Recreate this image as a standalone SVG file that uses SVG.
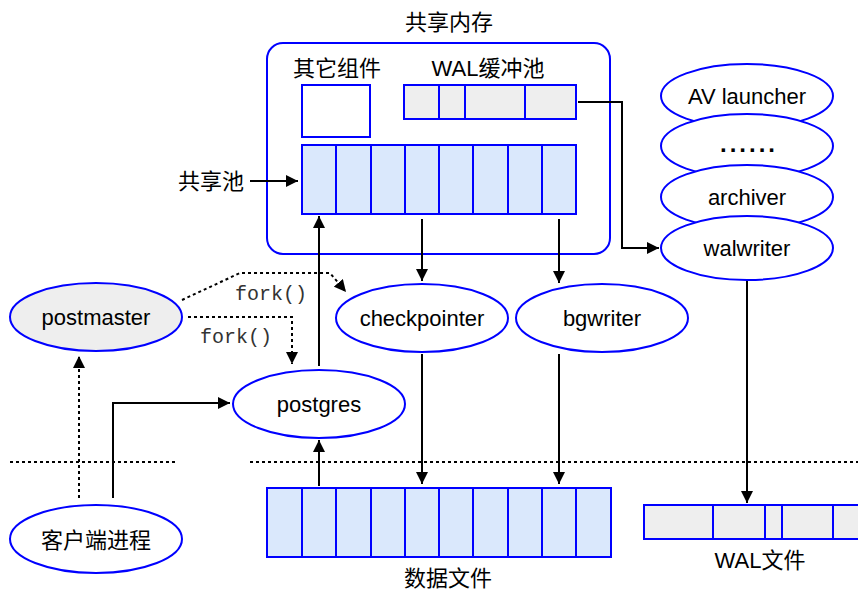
<svg xmlns="http://www.w3.org/2000/svg" width="858" height="590" viewBox="0 0 858 590">
  <style>
    .t { font-family: "Liberation Sans", "Noto Sans CJK SC", Arial, sans-serif; font-size: 22px; fill: #000; text-anchor: middle; dominant-baseline: central; }
    .m { font-family: "Liberation Mono", "Courier New", monospace; font-size: 20px; fill: #333; text-anchor: start; dominant-baseline: central; }
    .blue { fill: #dae8fc; stroke: #0000ff; stroke-width: 2; }
    .grey { fill: #eeeeee; stroke: #0000ff; stroke-width: 2; }
    .node { fill: #ffffff; stroke: #0000ff; stroke-width: 2; }
    .div { stroke: #0000ff; stroke-width: 2; }
    .edge { fill: none; stroke: #000; stroke-width: 2; }
    .dot { fill: none; stroke: #000; stroke-width: 2; stroke-dasharray: 3 3; }
  </style>
  <defs>
    <marker id="arrow" viewBox="0 0 10 10" refX="10" refY="5" markerWidth="12" markerHeight="12" markerUnits="userSpaceOnUse" orient="auto">
      <path d="M0,0 L10,5 L0,10 Z" fill="#000"/>
    </marker>
  </defs>

  <!-- shared memory container -->
  <g id="shared-memory">
    <rect x="267" y="43" width="343" height="211" rx="16" fill="#fff" stroke="#0000ff" stroke-width="2"/>
    <text class="t" x="449" y="22">共享内存</text>
    <text class="t" x="337" y="68">其它组件</text>
    <text class="t" x="488" y="68">WAL缓冲池</text>
  </g>

  <g id="other-components">
    <rect x="302" y="85" width="68" height="52" class="node"/>
  </g>

  <g id="wal-buffer">
    <rect x="404" y="85" width="172" height="34" class="grey"/>
    <path class="div" d="M439,85V119M465,85V119M525,85V119"/>
  </g>

  <g id="shared-pool">
    <rect x="302" y="145" width="274" height="69" class="blue"/>
    <path class="div" d="M336,145V214M371,145V214M405,145V214M439,145V214M473,145V214M508,145V214M542,145V214"/>
    <text class="t" x="211" y="181">共享池</text>
  </g>

  <!-- processes -->
  <g id="postmaster">
    <ellipse cx="96" cy="317" rx="86" ry="34" class="grey"/>
    <text class="t" x="96" y="317">postmaster</text>
  </g>
  <g id="checkpointer">
    <ellipse cx="422" cy="318" rx="86" ry="34" class="node"/>
    <text class="t" x="422" y="318">checkpointer</text>
  </g>
  <g id="bgwriter">
    <ellipse cx="602" cy="318" rx="86" ry="34" class="node"/>
    <text class="t" x="602" y="318">bgwriter</text>
  </g>
  <g id="postgres">
    <ellipse cx="319" cy="404" rx="86" ry="34" class="node"/>
    <text class="t" x="319" y="404">postgres</text>
  </g>
  <g id="client">
    <ellipse cx="96" cy="539" rx="86" ry="34" class="node"/>
    <text class="t" x="96" y="540">客户端进程</text>
  </g>

  <g id="av-launcher">
    <ellipse cx="747" cy="96" rx="86" ry="32" class="node"/>
    <text class="t" x="747" y="96">AV launcher</text>
  </g>
  <g id="other-workers">
    <ellipse cx="747" cy="146" rx="86" ry="32" class="node"/>
    <text class="t" x="749" y="143" style="font-weight:bold;font-size:24px;letter-spacing:3px">......</text>
  </g>
  <g id="archiver">
    <ellipse cx="747" cy="197" rx="86" ry="32" class="node"/>
    <text class="t" x="747" y="197">archiver</text>
  </g>
  <g id="walwriter">
    <ellipse cx="747" cy="248" rx="86" ry="32" class="node"/>
    <text class="t" x="747" y="248">walwriter</text>
  </g>

  <!-- storage -->
  <g id="data-files">
    <rect x="267" y="488" width="344" height="69" class="blue"/>
    <path class="div" d="M302,488V557M336,488V557M371,488V557M405,488V557M439,488V557M473,488V557M508,488V557M542,488V557M576,488V557"/>
    <text class="t" x="448" y="578">数据文件</text>
  </g>
  <g id="wal-files">
    <rect x="644" y="505" width="220" height="34" class="grey"/>
    <path class="div" d="M713,505V539M765,505V539M782,505V539M833,505V539"/>
    <text class="t" x="760" y="560">WAL文件</text>
  </g>

  <!-- memory / disk boundary -->
  <g id="boundary">
    <path class="dot" d="M10,462H178M250,462H858"/>
  </g>

  <!-- connectors -->
  <g id="connectors">
    <path class="edge" d="M250,181H298" marker-end="url(#arrow)"/>
    <path class="edge" d="M319,366V216" marker-end="url(#arrow)"/>
    <path class="edge" d="M422,219V281" marker-end="url(#arrow)"/>
    <path class="edge" d="M559,219V283" marker-end="url(#arrow)"/>
    <path class="edge" d="M578,102H622V248H659" marker-end="url(#arrow)"/>
    <path class="edge" d="M422,354V484" marker-end="url(#arrow)"/>
    <path class="edge" d="M559,354V484" marker-end="url(#arrow)"/>
    <path class="edge" d="M747,281V503" marker-end="url(#arrow)"/>
    <path class="edge" d="M319,486V440" marker-end="url(#arrow)"/>
    <path class="edge" d="M113,498V403H230" marker-end="url(#arrow)"/>
    <path class="dot" d="M79,498V356" marker-end="url(#arrow)"/>
    <path class="dot" d="M182,300L240,273H330L346,292" marker-end="url(#arrow)"/>
    <path class="dot" d="M188,317H292V364" marker-end="url(#arrow)"/>
    <text class="m" x="235" y="294">fork()</text>
    <text class="m" x="200" y="337">fork()</text>
  </g>
</svg>
